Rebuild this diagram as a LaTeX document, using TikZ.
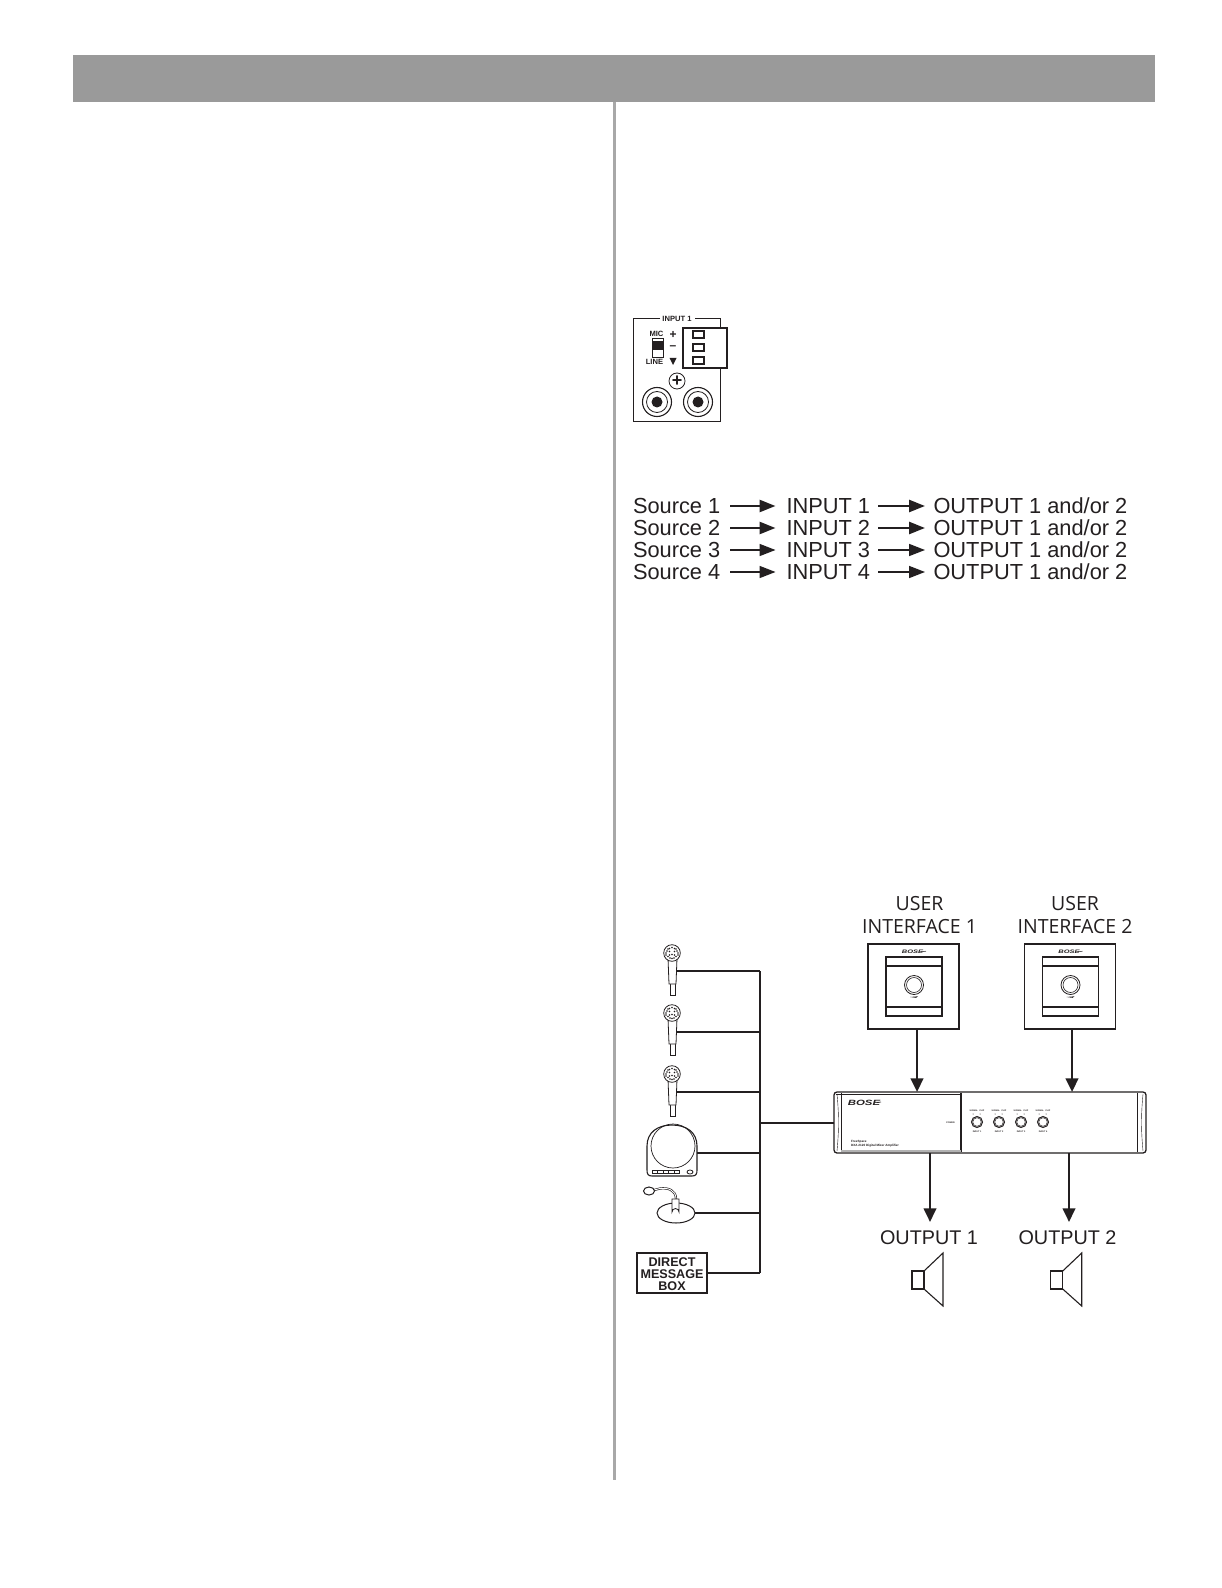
\documentclass[tikz,border=0pt]{standalone}
\usepackage{fontspec}
\setmainfont{Liberation Sans}
\newfontfamily\labelfont{Open Sans}
\usetikzlibrary{arrows.meta}
\definecolor{bargray}{HTML}{9A9A9A}
\definecolor{rulegray}{HTML}{A8A8A8}
\definecolor{ink}{HTML}{231F20}
\tikzset{
  x=0.5pt,y=-0.5pt,
  every node/.style={inner sep=0pt,outer sep=0pt,text=ink},
  txt/.style={font=\fontsize{10.9pt}{12pt}\selectfont,anchor=base west},
  ctxt/.style={font=\fontsize{9.9pt}{12pt}\selectfont,align=center},
  uilabel/.style={font=\labelfont\fontsize{9.75pt}{11.5pt}\selectfont,align=center},
  tiny/.style={font=\bfseries\fontsize{1.55pt}{2.1pt}\selectfont,align=left},
  tinier/.style={font=\bfseries\fontsize{1.1pt}{1.4pt}\selectfont},
  panel/.style={font=\bfseries\fontsize{3.8pt}{4.4pt}\selectfont},
  wire/.style={draw=ink,line width=1pt},
  flow/.style={draw=ink,line width=1.2pt,-{Triangle[length=6.8pt,width=6.2pt]}},
  thin box/.style={draw=ink,line width=0.55pt},
  fine/.style={draw=ink,line width=0.4pt},
}
\newcommand{\boselogo}[3]{%
  \node[font=\bfseries\itshape\fontsize{#3}{#3}\selectfont,xscale=1.5] at (#1,#2) {BOSE};
}
\begin{document}
\begin{tikzpicture}
\useasboundingbox (0,0) rectangle (1221,1588);
\fill[white] (0,0) rectangle (1221,1588);
% header and column rule
\fill[bargray] (73,55) rectangle (1155,102);
\fill[rulegray] (613,102) rectangle (616,1480);

% INPUT 1 connector panel
\draw[fine] (660,318) -- (633,318) -- (633,421) -- (720,421) -- (720,318) -- (695,318);
\node[panel] (inputone) at (677,318.5) {INPUT 1};
\node[panel] (mic) at (656.5,334) {MIC};
\node[panel] (line) at (654.5,362) {LINE};
\draw[fine,fill=white] (652,338) rectangle (663,357);
\fill[ink] (652,341) rectangle (663,350);
\node[panel,font=\bfseries\fontsize{6pt}{6pt}\selectfont] (plus) at (673,335) {+};
\node[panel,font=\bfseries\fontsize{6pt}{6pt}\selectfont] (minus) at (673,348) {–};
\fill[ink] (669.5,358) -- (676.5,358) -- (673,365) -- cycle;
\draw[thin box,fill=white] (683,328) rectangle (727,368);
\draw[thin box] (693,331) rectangle (704,338);
\draw[thin box] (693,344) rectangle (704,351);
\draw[thin box] (693,357) rectangle (704,364);
\draw[fine] (677,381) circle (8);
\node[panel,font=\bfseries\fontsize{9pt}{9pt}\selectfont] (gnd) at (677,381) {+};
\foreach \cx in {657,698}{
  \draw[fine,line width=0.55pt] (\cx,402) circle (14.5);
  \draw[fine] (\cx,402) circle (10.5);
  \fill[ink] (\cx,402) circle (5.5);
}

% routing table
\foreach \n/\yy/\lw in {1/506/1.25pt,2/528/1.25pt,3/550/0.8pt,4/572/0.8pt}{
  \node[txt] (src\n) at (633,\yy+7) {Source \n};
  \node[txt] (in\n) at (786.5,\yy+7) {INPUT \n};
  \node[txt] (out\n) at (933.5,\yy+7) {OUTPUT 1 and/or 2};
  \draw[flow,line width=\lw,-{Triangle[length=8pt,width=6pt]}] (730,\yy) -- (775.5,\yy);
  \draw[flow,line width=\lw,-{Triangle[length=8pt,width=6pt]}] (878,\yy) -- (925,\yy);
}

% user interfaces
\node[uilabel] (ui1label) at (919.5,915) {USER\\[-0.2pt]INTERFACE 1};
\node[uilabel] (ui2label) at (1075,915) {USER\\[-0.2pt]INTERFACE 2};
\foreach \dx/\nm in {0/a,156.5/b}{
  \begin{scope}[xshift=\dx*0.5pt]
  \draw[thin box] (868,944) rectangle (959,1029);
  \draw[thin box] (886,957) rectangle (942,1016);
  \draw[thin box] (886,966) -- (942,966);
  \draw[thin box] (886,1007) -- (942,1007);
  \draw[fine] (914,985) circle (9.5);
  \draw[fine,line width=0.3pt] (914,985) circle (7.5);
  \fill[ink] (910,997) -- (918,996.3) -- (916,997.8) -- cycle;
  \boselogo{912.5}{952}{2.5pt}
  \draw[fine,line width=0.25pt] (921,951.8) -- (926,951.2);
  \end{scope}
}
\coordinate (ui1b) at (917,1029);
\coordinate (ui2b) at (1072,1029);

% amplifier
\draw[draw=ink,line width=0.65pt,rounded corners=1.5pt] (834,1092) rectangle (1146,1153) ;
\draw[fine,line width=0.3pt] (841,1093) -- (841,1152);
\draw[fine,line width=0.6pt] (961,1093) -- (961,1152);
\draw[fine] (1137,1093) -- (1137,1152);
\draw[fine,line width=0.3pt] (836,1094.5) -- (961,1094.5);
\fill[gray!60] (841,1149.5) rectangle (961,1152);
\draw[fine,line width=0.2pt] (837,1094) .. controls (839,1115) and (839,1130) .. (837,1151);
\draw[fine,line width=0.2pt] (1143,1094) .. controls (1141,1115) and (1141,1130) .. (1143,1151);
\boselogo{864}{1103}{3.8pt}
\draw[fine,line width=0.3pt] (877,1102.5) -- (881,1102);
\node[tiny,anchor=north west] (amplabel) at (851,1140.5) {FreeSpace\\DXA 2120 Digital Mixer Amplifier};
\node[tinier] (power) at (950.5,1123) {POWER};
\foreach \kx/\kn in {977/1,999/2,1021/3,1043/4}{
  \draw[fine,line width=0.5pt] (\kx,1122) circle (5.5);
  \draw[fine,line width=0.25pt] (\kx,1122) circle (4.3);
  \node[tinier] at (\kx,1111) {SIGNAL~~CLIP};
  \node[tinier] at (\kx,1132) {INPUT \kn};
  \fill[ink] (\kx-4,1114) circle (0.5) (\kx+3,1114) circle (0.5);
}
\coordinate (ampT1) at (917,1092);
\coordinate (ampT2) at (1072,1092);
\coordinate (ampB1) at (930,1153);
\coordinate (ampB2) at (1069,1153);
\coordinate (ampL) at (834,1122.5);
\draw[flow,line width=1.4pt] (ui1b) -- (ampT1);
\draw[flow,line width=1.4pt] (ui2b) -- (ampT2);

% outputs
\coordinate (sp1) at (930,1222);
\coordinate (sp2) at (1069,1222);
\draw[flow] (ampB1) -- (sp1);
\draw[flow] (ampB2) -- (sp2);
\node[ctxt] (out1) at (929,1238) {OUTPUT 1};
\node[ctxt] (out2) at (1067.5,1238) {OUTPUT 2};
\foreach \dx in {0,138.7}{
  \begin{scope}[xshift=\dx*0.5pt]
  \draw[thin box] (912,1271) rectangle (924,1289);
  \draw[thin box] (924,1271) -- (943,1253) -- (943,1306) -- (924,1289);
  \end{scope}
}

% source wiring
\coordinate (busT) at (760,971);
\coordinate (busB) at (760,1273);
\draw[wire,line width=1.2pt] (busT) -- (busB);
\draw[wire] (ampL) -- (760,1122.5);
\foreach \my/\ly in {953/971,1013/1032,1074/1092}{
  \draw[wire] (677,\ly) -- (760,\ly);
  \draw[fine] (670.3,\my+21) rectangle (675.3,\my+42);
  \draw[fine,fill=white] (668,\my+5) -- (677,\my+5) -- (676,\my+31) -- (669,\my+31) -- cycle;
  \draw[fine,fill=white] (672,\my) circle (8.3);
  \foreach \ax/\ay in {-4/-4,0/-5.5,4/-4,-6/0,-2.5/-1.5,2.5/-1.5,6/0,-4/3.5,0/1.5,4/3.5,0/5.5,-2.5/-4.5,2.5/-4.5,-5/-2,5/-2,-2.5/2,2.5/2,-2/5,2/5,-6/2,6/2}{
    \fill[ink] (672+\ax,\my+\ay) circle (0.95);
  }
}
% conference phone
\draw[thin box] (652,1176) .. controls (648,1176) and (647,1174) .. (647,1170)
   -- (647,1146) .. controls (647,1132) and (658,1125) .. (672,1125)
   .. controls (686,1125) and (697,1132) .. (697,1146) -- (697,1170)
   .. controls (697,1174) and (696,1176) .. (692,1176) -- cycle;
\draw[fine,line width=0.35pt] (673,1146) circle (22);
\draw[fine,line width=0.3pt] (652,1170.5) rectangle (679,1173.5);
\foreach \bx in {657.5,663,668.5,674}{\draw[fine,line width=0.25pt] (\bx,1170.5) -- (\bx,1173.5);}
\draw[fine] (690,1172) ellipse (3 and 2);
\draw[wire] (697,1153) -- (760,1153);
% gooseneck mic
\draw[fine,line width=0.5pt] (676,1213) ellipse (19 and 10);
\draw[draw=ink,line width=1.1pt] (676,1199) .. controls (676,1190) and (668,1187.5) .. (660,1188.5) -- (654,1190);
\draw[draw=white,line width=0.45pt] (676,1199) .. controls (676,1190) and (668,1187.5) .. (660,1188.5) -- (654,1190);
\draw[fine,fill=white] (672,1199) -- (679,1199) -- (679,1212) arc (0:-180:3.5) -- cycle;
\draw[fine,line width=0.5pt,fill=white] (649,1191) ellipse (5.5 and 4);
\draw[wire] (695,1213) -- (760,1213);
% direct message box
\node[draw=ink,line width=0.65pt,minimum width=35pt,minimum height=20pt,align=center,
  font=\bfseries\fontsize{6.3pt}{5.8pt}\selectfont] (dmb) at (672,1273) {\rule{0pt}{5.5pt}DIRECT\\MESSAGE\\BOX};
\draw[wire] (dmb.east) -- (busB);
\end{tikzpicture}
\end{document}
